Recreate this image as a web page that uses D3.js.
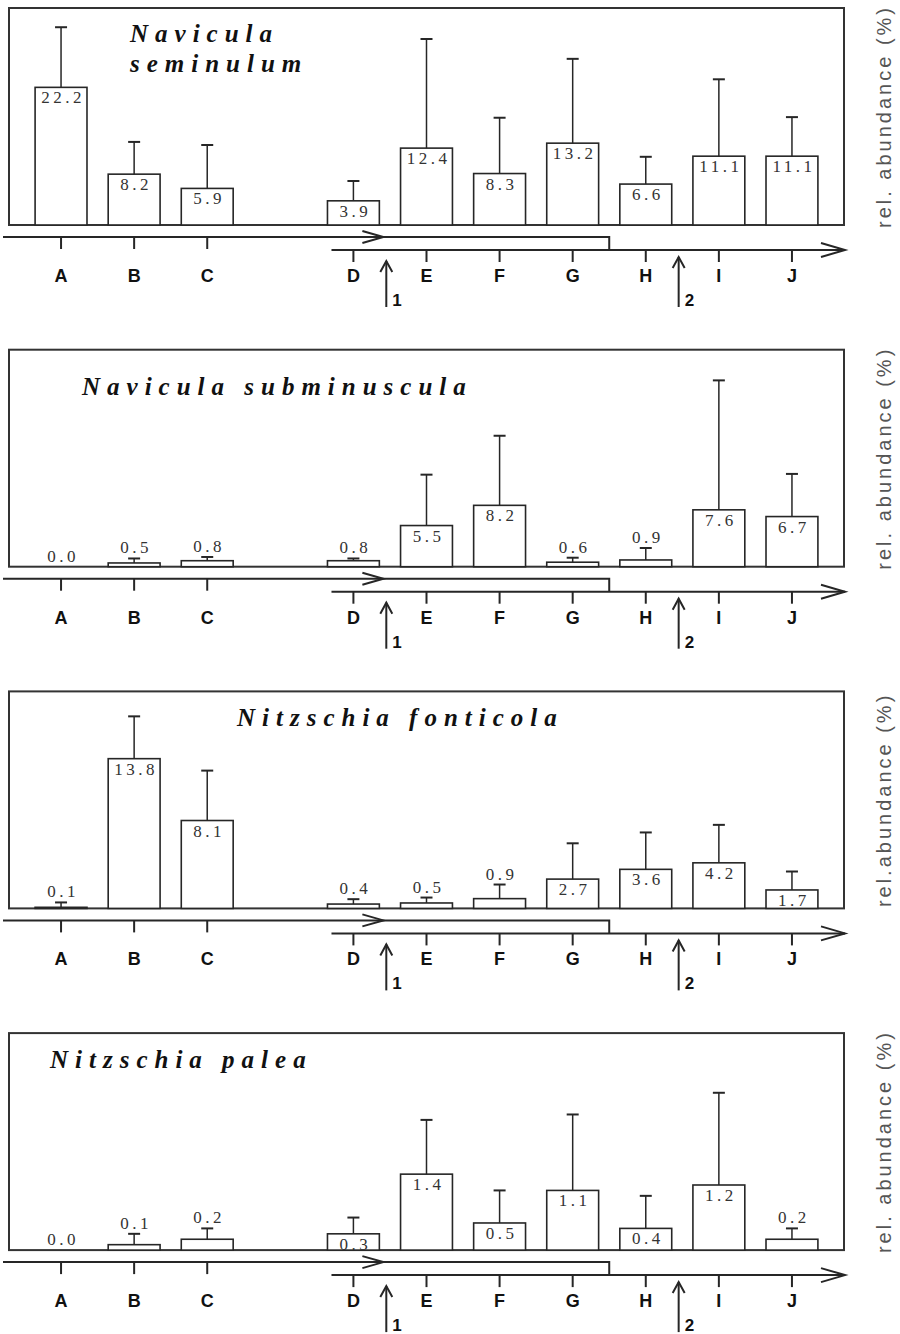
<!DOCTYPE html>
<html>
<head>
<meta charset="utf-8">
<script src="https://cdn.jsdelivr.net/npm/d3@7"></script>
<style>
  body { margin: 0; background: #fff; }
</style>
</head>
<body>
<script>
// sampling sites, with one empty slot between C and D
var categories = ["A", "B", "C", "D", "E", "F", "G", "H", "I", "J"];
var slots = ["A", "B", "C", "gap", "D", "E", "F", "G", "H", "I", "J"];

// mean relative abundance (%) and standard deviation per site
var seminulum = [22.2, 8.2, 5.9, 3.9, 12.4, 8.3, 13.2, 6.6, 11.1, 11.1];
var seminulumSd = [9.7, 5.2, 7.0, 3.2, 17.6, 9.0, 13.6, 4.4, 12.4, 6.3];

var subminuscula = [0.0, 0.5, 0.8, 0.8, 5.5, 8.2, 0.6, 0.9, 7.6, 6.7];
var subminusculaSd = [0, 0.6, 0.5, 0.3, 6.8, 9.3, 0.6, 1.6, 17.3, 5.7];

var fonticola = [0.1, 13.8, 8.1, 0.4, 0.5, 0.9, 2.7, 3.6, 4.2, 1.7];
var fonticolaSd = [0.45, 3.9, 4.6, 0.45, 0.5, 1.3, 3.3, 3.4, 3.5, 1.7];

var palea = [0.0, 0.1, 0.2, 0.3, 1.4, 0.5, 1.1, 0.4, 1.2, 0.2];
var paleaSd = [0, 0.2, 0.2, 0.3, 1.0, 0.6, 1.4, 0.6, 1.7, 0.2];

var yMax = [35, 29, 20, 4];
var titles = [["Navicula", "seminulum"], ["Navicula subminuscula"], ["Nitzschia fonticola"], ["Nitzschia palea"]];
var yLabels = ["rel. abundance (%)", "rel. abundance (%)", "rel.abundance (%)", "rel. abundance (%)"];

var panels = [
    {values: seminulum, sd: seminulumSd},
    {values: subminuscula, sd: subminusculaSd},
    {values: fonticola, sd: fonticolaSd},
    {values: palea, sd: paleaSd}
];

// where each title sits (left x, first baseline offset from frame top)
var titlePos = [[130, 34], [82, 45], [237, 35], [50, 35]];

var svg = d3.select("body").append("svg")
    .attr("width", 900)
    .attr("height", 1334);

var x = d3.scaleBand()
    .domain(slots)
    .range([24.5, 828.5])
    .paddingInner(0.29)
    .paddingOuter(0.145);
var step = x.step();
var cx = function (c) {
    return x(c) + x.bandwidth() / 2;
};

var ink = "#262626";

// open arrow head pointing right (horizontal) or up (vertical)
function chevron(g, tipX, tipY, vertical, len, half) {
    var d = vertical
        ? "M" + (tipX - half) + "," + (tipY + len) + " L" + tipX + "," + tipY + " L" + (tipX + half) + "," + (tipY + len)
        : "M" + (tipX - len) + "," + (tipY - half) + " L" + tipX + "," + tipY + " L" + (tipX - len) + "," + (tipY + half);
    g.append("path")
        .attr("d", d)
        .attr("fill", "none")
        .attr("stroke", ink)
        .attr("stroke-width", 2);
}

panels.forEach(function (p, i) {
    var top = 8 + i * 341.7;
    var base = top + 217;
    var g = svg.append("g");

    var y = d3.scaleLinear()
        .domain([0, yMax[i]])
        .range([base, top]);

    var rows = categories.map(function (c, k) {
        return {cat: c, v: p.values[k], sd: p.sd[k]};
    });

    // frame
    g.append("rect")
        .attr("x", 9)
        .attr("y", top)
        .attr("width", 835)
        .attr("height", base - top)
        .attr("fill", "none")
        .attr("stroke", "#333")
        .attr("stroke-width", 2);

    // bars
    g.selectAll(".bar")
        .data(rows.filter(function (d) { return d.v > 0; }))
        .enter().append("rect")
        .attr("class", "bar")
        .attr("x", function (d) { return x(d.cat); })
        .attr("y", function (d) { return y(d.v); })
        .attr("width", x.bandwidth())
        .attr("height", function (d) { return base - y(d.v); })
        .attr("fill", "#fff")
        .attr("stroke", ink)
        .attr("stroke-width", 1.6);

    // error bars
    var eb = g.selectAll(".err")
        .data(rows.filter(function (d) { return d.sd > 0; }))
        .enter().append("g")
        .attr("class", "err");
    eb.append("line")
        .attr("x1", function (d) { return cx(d.cat); })
        .attr("x2", function (d) { return cx(d.cat); })
        .attr("y1", function (d) { return y(d.v); })
        .attr("y2", function (d) { return y(d.v + d.sd); })
        .attr("stroke", ink)
        .attr("stroke-width", 1.5);
    eb.append("line")
        .attr("x1", function (d) { return cx(d.cat) - 6; })
        .attr("x2", function (d) { return cx(d.cat) + 6; })
        .attr("y1", function (d) { return y(d.v + d.sd); })
        .attr("y2", function (d) { return y(d.v + d.sd); })
        .attr("stroke", ink)
        .attr("stroke-width", 2);

    // value labels: inside tall bars, above the cap of short ones
    g.selectAll(".val")
        .data(rows)
        .enter().append("text")
        .attr("class", "val")
        .attr("x", function (d) { return cx(d.cat) + 2; })
        .attr("y", function (d) {
            if (base - y(d.v) > 14) return y(d.v) + 16;
            return y(d.v + d.sd) - 5;
        })
        .attr("text-anchor", "middle")
        .style("font-family", "'Liberation Serif', 'Times New Roman', serif")
        .style("font-size", "17px")
        .style("letter-spacing", "3.5px")
        .style("fill", "#333")
        .text(function (d) { return d.v.toFixed(1); });

    // species name
    var t = g.append("text")
        .attr("x", titlePos[i][0])
        .attr("y", top + titlePos[i][1])
        .style("font-family", "'Liberation Serif', 'Times New Roman', serif")
        .style("font-style", "italic")
        .style("font-weight", "bold")
        .style("font-size", "25px")
        .style("letter-spacing", "7px")
        .style("fill", "#111");
    titles[i].forEach(function (line, k) {
        t.append("tspan")
            .attr("x", titlePos[i][0])
            .attr("dy", k === 0 ? 0 : 30)
            .text(line);
    });

    // y label
    g.append("text")
        .attr("transform", "translate(884," + ((top + base) / 2) + ") rotate(-90)")
        .attr("text-anchor", "middle")
        .attr("dominant-baseline", "central")
        .style("font-family", "'Liberation Sans', Arial, sans-serif")
        .style("font-size", "20px")
        .style("letter-spacing", "3px")
        .style("fill", "#555")
        .text(yLabels[i]);

    // site axis: two overlapping flow arrows
    var y1 = base + 12, y2 = base + 25;
    var endUpper = cx("G") + step / 2;
    var startLower = cx("D") - 0.3 * step;
    g.append("path")
        .attr("d", "M3," + y1 + " H" + endUpper + " V" + y2)
        .attr("fill", "none")
        .attr("stroke", ink)
        .attr("stroke-width", 2);
    chevron(g, cx("D") + 0.41 * step, y1, false, 21, 6);
    g.append("line")
        .attr("x1", startLower)
        .attr("x2", 845)
        .attr("y1", y2)
        .attr("y2", y2)
        .attr("stroke", ink)
        .attr("stroke-width", 2);
    chevron(g, 845, y2, false, 24, 7);

    g.selectAll(".tick")
        .data(categories)
        .enter().append("line")
        .attr("class", "tick")
        .attr("x1", function (c) { return cx(c); })
        .attr("x2", function (c) { return cx(c); })
        .attr("y1", function (c, k) { return k < 3 ? y1 : y2; })
        .attr("y2", function (c, k) { return (k < 3 ? y1 : y2) + 12; })
        .attr("stroke", ink)
        .attr("stroke-width", 2);

    g.selectAll(".cat")
        .data(categories)
        .enter().append("text")
        .attr("class", "cat")
        .attr("x", function (c) { return cx(c); })
        .attr("y", base + 57)
        .attr("text-anchor", "middle")
        .style("font-family", "'Liberation Sans', Arial, sans-serif")
        .style("font-weight", "bold")
        .style("font-size", "18px")
        .style("fill", "#111")
        .text(function (c) { return c; });

    // event arrows 1 and 2
    var events = [
        {label: "1", x: cx("D") + 0.45 * step, top: base + 36},
        {label: "2", x: cx("H") + 0.45 * step, top: base + 32}
    ];
    events.forEach(function (e) {
        g.append("line")
            .attr("x1", e.x).attr("x2", e.x)
            .attr("y1", e.top).attr("y2", base + 82)
            .attr("stroke", ink)
            .attr("stroke-width", 2);
        chevron(g, e.x, e.top, true, 11, 6);
        g.append("text")
            .attr("x", e.x + 6)
            .attr("y", base + 81)
            .style("font-family", "'Liberation Sans', Arial, sans-serif")
            .style("font-weight", "bold")
            .style("font-size", "17px")
            .style("fill", "#111")
            .text(e.label);
    });
});
</script>
</body>
</html>
